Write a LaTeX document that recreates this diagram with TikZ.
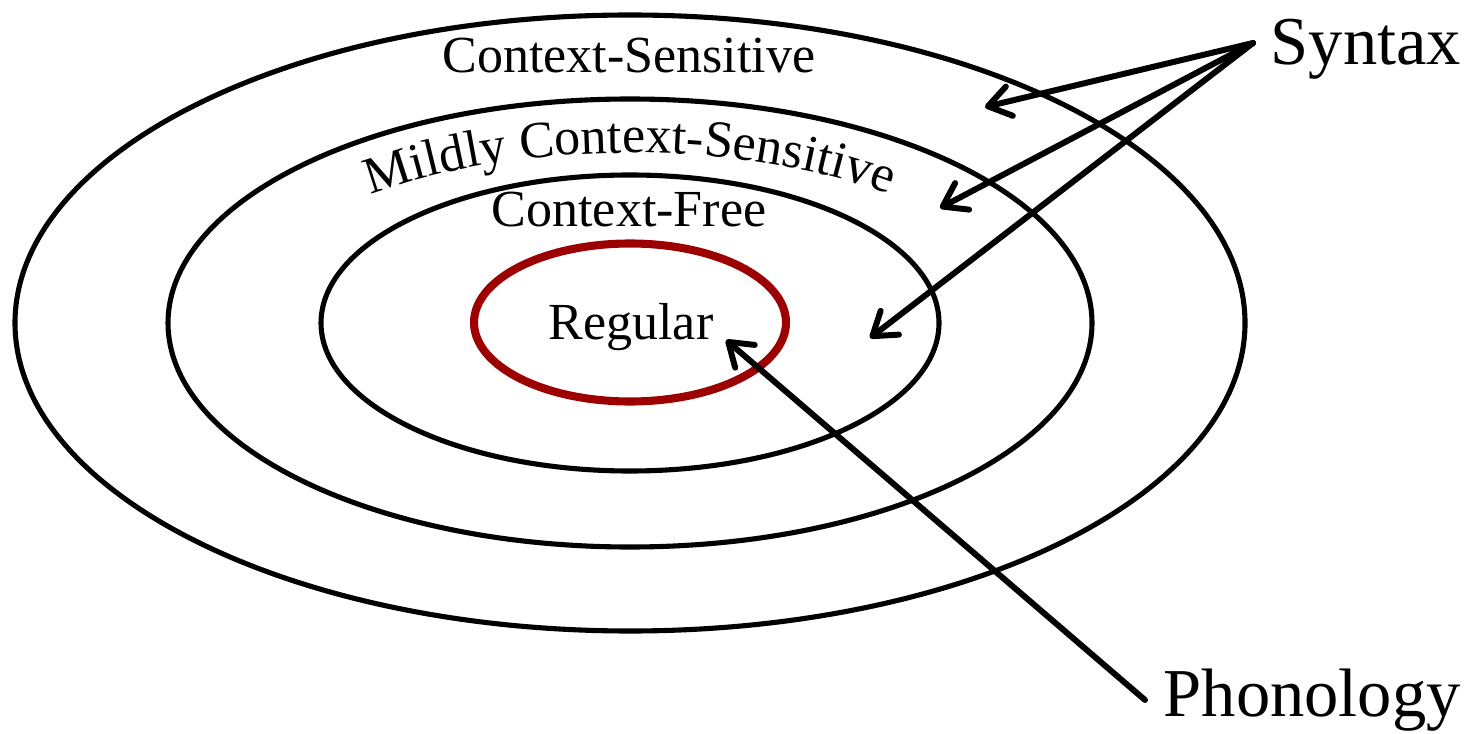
\documentclass[tikz,border=0pt]{standalone}
\usepackage{fontspec}
\setmainfont{Liberation Serif}
\usepackage{tikz}
\usetikzlibrary{arrows.meta,calc,decorations.text}
\definecolor{Ink}{HTML}{000000}
\definecolor{Brick}{HTML}{9C0000}
\newcommand{\ringfont}{\fontsize{14.8}{18}\selectfont}
\tikzset{
  ring/.style={line width=1.45pt,draw=Ink},
  regring/.style={line width=2.3pt,draw=Brick},
  ringlabel/.style={anchor=base,inner sep=0pt,text=Ink,font=\ringfont},
  sidelabel/.style={anchor=base west,inner sep=0pt,text=Ink,font=\fontsize{19.5}{23}\selectfont},
  pointer/.style={-{Straight Barb[length=2.2mm,width=3mm,round]},line width=1.7pt,line cap=round,draw=Ink},
}
\begin{document}
\begin{tikzpicture}[x=1cm,y=1cm]
    \useasboundingbox (0,0) rectangle (14.64,7.33);
    \coordinate (c) at (6.30,4.10);

    % nested language classes
    \draw[ring] (c) ellipse[x radius=6.15, y radius=3.08];
    \draw[ring] (c) ellipse[x radius=4.62, y radius=2.24];
    \draw[ring] (c) ellipse[x radius=3.09, y radius=1.48];
    \draw[regring] (6.30,4.105) ellipse[x radius=1.56, y radius=0.79];

    \node[ringlabel] (csens) at (6.29,6.60) {Context-Sensitive};
    \path[decorate,decoration={text along path,text align=center,
        text={|\ringfont|Mildly Context-Sensitive}}]
        ($(c)+(155:3.95 and 1.70)$) arc[start angle=155,end angle=25,x radius=3.95,y radius=1.70];
    \node[ringlabel] (cfree) at (6.29,5.06) {Context-Free};
    \node[ringlabel] (regular) at (6.31,3.93) {Regular};

    \node[sidelabel] (syntax) at (12.70,6.68) {Syntax};
    \node[sidelabel] (phonology) at (11.63,0.17) {Phonology};

    \coordinate (synfoot) at (12.53,6.90);
    \coordinate (phonfoot) at (11.45,0.33);
    \coordinate (incs) at (9.85,6.26);
    \coordinate (inmcs) at (9.40,5.25);
    \coordinate (incf) at (8.70,3.95);
    \coordinate (inreg) at (7.26,3.93);

    \draw[pointer] (synfoot) -- (incs);
    \draw[pointer] (synfoot) -- (inmcs);
    \draw[pointer] (synfoot) -- (incf);
    \draw[pointer] (phonfoot) -- (inreg);
  \end{tikzpicture}
\end{document}
